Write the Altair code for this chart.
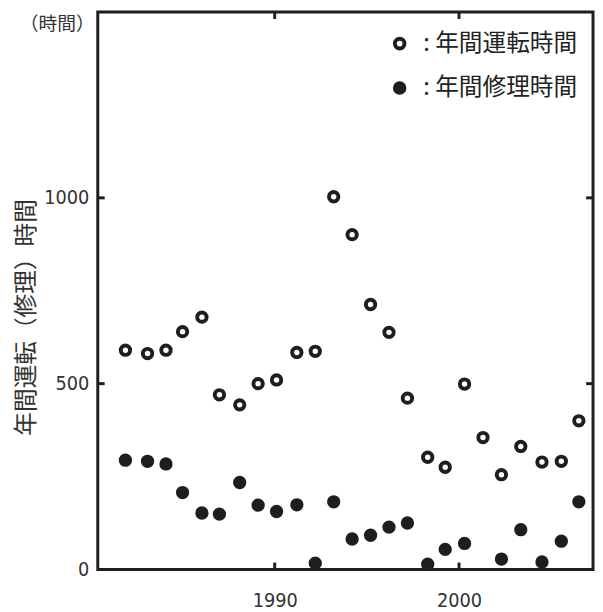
import altair as alt
import pandas as pd

# decimal years
years = [1981.9, 1983.1, 1984.1, 1985.0, 1986.05, 1987.0, 1988.1, 1989.1, 1990.1,
         1991.2, 1992.2, 1993.2, 1994.2, 1995.2, 1996.2, 1997.2, 1998.3, 1999.25,
         2000.3, 2001.3, 2002.3, 2003.35, 2004.5, 2005.55, 2006.5]
operation_hours = [590, 581, 590, 640, 679, 470, 443, 500, 510, 584, 587, 1003, 901,
                   713, 638, 461, 302, 275, 499, 355, 255, 331, 289, 291, 400]
repair_hours = [294, 291, 284, 207, 152, 149, 234, 173, 156, 174, 17, 182, 82, 92,
                114, 125, 14, 54, 70, None, 28, 107, 20, 76, 182]
series_names = ["年間運転時間", "年間修理時間"]
xtick_vals = [1990, 2000]
ytick_vals = [500, 1000]
ylabel_vals = [0, 500, 1000]

rows = []
for y, o, r in zip(years, operation_hours, repair_hours):
    rows.append({"year": y, "hours": o, "series": series_names[0]})
    if r is not None:
        rows.append({"year": y, "hours": r, "series": series_names[1]})
df = pd.DataFrame(rows)

W, H = 502, 565
INK = "#1e1e1e"
NUM_FONT = "DejaVu Sans Condensed"
JP_FONT = "Noto Sans CJK JP"

xscale = alt.Scale(domain=[1980.4, 2007.27], nice=False, zero=False)
yscale = alt.Scale(domain=[0, 1500], nice=False)

points = alt.Chart(df).mark_point(shape="circle", stroke=INK, strokeWidth=4, opacity=1, size=90).encode(
    x=alt.X("year:Q", scale=xscale,
            axis=alt.Axis(values=xtick_vals, format="d", title=None, domain=False, ticks=False,
                          grid=False, labelPadding=22, labelFontSize=20, labelFont=NUM_FONT,
                          labelColor="#333")),
    y=alt.Y("hours:Q", scale=yscale,
            axis=alt.Axis(values=ylabel_vals, format="d", title="年間運転（修理）時間", domain=False,
                          ticks=False, grid=False, labelPadding=9, labelFontSize=20,
                          labelFont=NUM_FONT, labelColor="#333", titleFont=JP_FONT,
                          titleFontSize=24, titleFontWeight="normal", titleColor="#333",
                          titleX=-72, titleY=309, titleAngle=-90, titleBaseline="middle")),
    fill=alt.Fill("series:N", scale=alt.Scale(domain=series_names, range=["white", INK]),
                  legend=alt.Legend(title=None, orient="none", legendX=294, legendY=20,
                                    labelExpr="': ' + datum.label", labelFont=JP_FONT,
                                    labelFontSize=24, labelColor="#222", labelOffset=12,
                                    symbolType="circle", symbolSize=95, symbolStrokeColor=INK,
                                    symbolStrokeWidth=4, rowPadding=19)),
)

xt = pd.DataFrame({"v": xtick_vals})
yt = pd.DataFrame({"v": ytick_vals})
xticks_b = alt.Chart(xt).mark_rule(color=INK, strokeWidth=3).encode(
    x=alt.X("v:Q", scale=xscale), y=alt.value(H - 7), y2=alt.value(H))
xticks_t = alt.Chart(xt).mark_rule(color=INK, strokeWidth=3).encode(
    x=alt.X("v:Q", scale=xscale), y=alt.value(0), y2=alt.value(7))
yticks_l = alt.Chart(yt).mark_rule(color=INK, strokeWidth=3).encode(
    y=alt.Y("v:Q", scale=yscale), x=alt.value(0), x2=alt.value(7))
yticks_r = alt.Chart(yt).mark_rule(color=INK, strokeWidth=3).encode(
    y=alt.Y("v:Q", scale=yscale), x=alt.value(W - 7), x2=alt.value(W))

unit = alt.Chart(pd.DataFrame({"t": ["（時間）"]})).mark_text(
    font=JP_FONT, fontSize=19, color="#333", align="center", baseline="middle").encode(
    text="t:N", x=alt.value(-41), y=alt.value(12))

chart = alt.layer(xticks_b, xticks_t, yticks_l, yticks_r, points, unit).properties(
    width=W, height=H,
    autosize=alt.AutoSizeParams(type="none"),
    padding={"left": 91, "top": 0, "right": 2, "bottom": 38},
).configure(background="white").configure_view(stroke=INK, strokeWidth=3)

chart.save("out.html", embed_options={"renderer": "svg", "actions": False})
